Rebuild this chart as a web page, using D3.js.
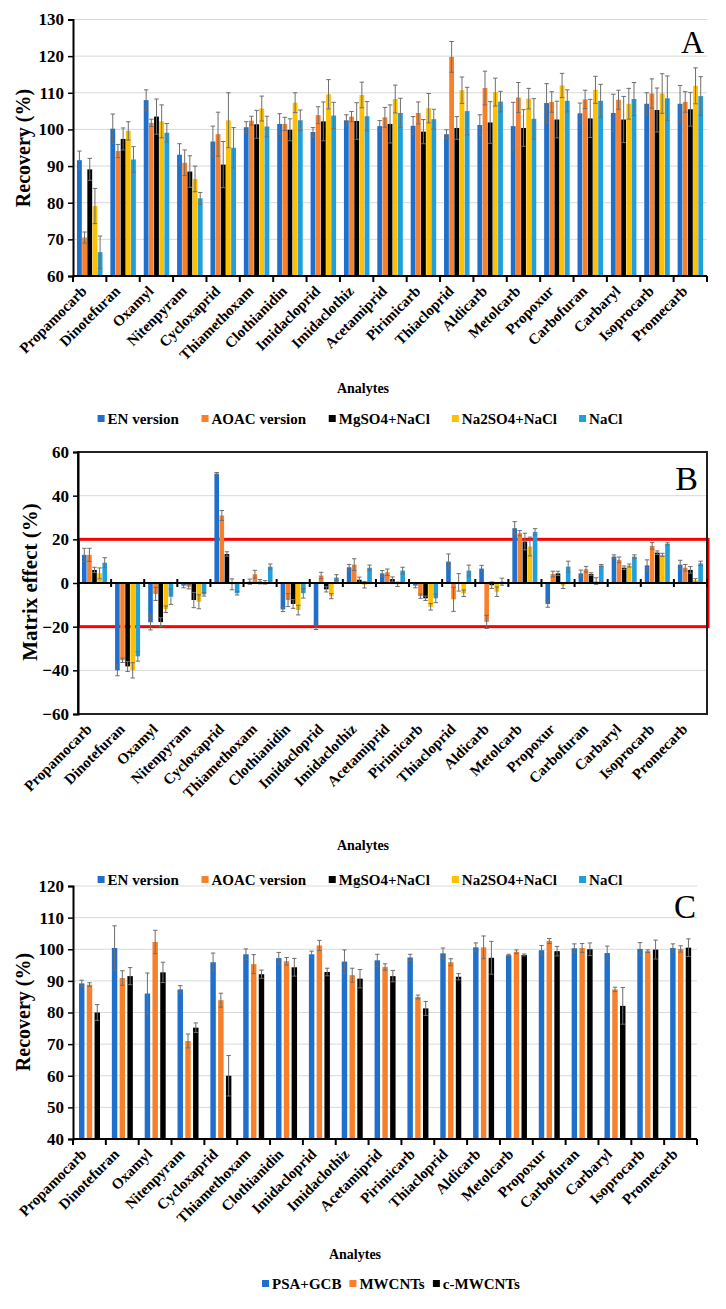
<!DOCTYPE html>
<html><head><meta charset="utf-8">
<script src="https://cdn.jsdelivr.net/npm/d3@7"></script>
<style>
body{margin:0;background:#fff;}
svg{display:block;}
text{font-family:"Liberation Serif","Times New Roman",serif;}
</style></head>
<body><svg id="c" width="726" height="1309"></svg>
<script>
const categories = ["Propamocarb","Dinotefuran","Oxamyl","Nitenpyram","Cycloxaprid","Thiamethoxam","Clothianidin","Imidacloprid","Imidaclothiz","Acetamiprid","Pirimicarb","Thiacloprid","Aldicarb","Metolcarb","Propoxur","Carbofuran","Carbaryl","Isoprocarb","Promecarb"];

const seriesAB = ["EN version","AOAC version","MgSO4+NaCl","Na2SO4+NaCl","NaCl"];
const seriesC = ["PSA+GCB","MWCNTs","c-MWCNTs"];
const colorsAB = ["#1f6fcc","#f8802b","#000000","#ffc000","#1f9fdc"];
const colorsC = ["#1f6fcc","#f8802b","#000000"];

// Panel A: recovery (%)
const recA_EN    = [91.6,100.2,108.0,93.1,96.7,100.6,101.5,99.3,102.5,100.9,101.0,98.7,101.2,100.9,107.2,104.4,104.5,107.0,107.0];
const recA_AOAC  = [70.5,94.1,101.8,90.9,98.7,102.4,101.5,103.9,103.5,103.3,104.5,119.8,111.3,108.7,107.5,108.2,108.1,109.8,107.5];
const recA_Mg    = [89.1,97.4,103.5,88.5,90.4,101.4,99.9,102.2,102.3,101.5,99.4,100.4,101.9,100.4,102.7,103.0,102.7,105.3,105.5];
const recA_Na2   = [79.1,99.6,102.2,86.5,102.5,105.7,107.3,109.6,109.4,108.3,105.8,110.7,110.2,108.4,112.0,110.8,107.0,109.8,111.9];
const recA_NaCl  = [66.5,91.8,99.1,81.2,95.0,100.8,102.5,103.8,103.6,104.5,102.8,105.0,107.6,102.9,107.8,107.8,108.3,108.5,109.1];
const errA_EN    = [2.5,4.0,2.8,3.0,4.2,1.5,2.8,1.2,1.5,1.5,2.5,1.2,2.8,6.5,5.3,2.8,5.1,3.0,5.0];
const errA_AOAC  = [1.5,1.8,1.0,3.5,6.0,1.2,1.8,2.3,1.4,2.7,3.0,4.2,4.6,4.1,2.8,2.5,2.6,4.0,2.8];
const errA_Mg    = [3.0,3.0,4.8,4.3,6.3,3.8,3.0,5.3,5.0,5.2,3.3,3.1,5.7,5.0,5.0,5.2,6.3,6.0,4.6];
const errA_Na2   = [4.8,2.5,4.5,3.5,7.5,3.4,2.7,4.0,3.5,3.8,4.0,3.6,3.8,2.8,3.3,3.7,4.2,5.4,4.9];
const errA_NaCl  = [4.4,3.5,2.5,1.6,5.5,2.8,2.8,3.6,4.0,4.0,2.7,6.5,2.8,5.5,3.0,4.5,4.5,6.1,5.3];

// Panel B: matrix effect (%)
const meB_EN    = [12.9,-40.0,-18.0,-1.2,50.1,0.6,-12.1,-19.8,7.2,4.4,-1.2,9.8,6.6,25.1,-9.6,4.4,12.1,8.1,8.4];
const meB_AOAC  = [12.9,-35.4,-5.0,-1.7,30.9,4.0,-7.8,3.4,8.4,4.9,-6.0,-7.5,-17.8,22.8,4.1,6.3,10.6,17.0,7.0];
const meB_Mg    = [6.0,-38.2,-17.9,-7.8,13.3,0.6,-9.6,-2.9,1.5,1.8,-7.0,0.3,-1.0,19.0,4.4,4.1,7.0,13.9,6.0];
const meB_Na2   = [4.4,-40.0,-12.0,-8.6,-0.6,0.3,-12.4,-6.0,-0.8,-0.6,-10.9,-4.7,-4.0,16.7,-1.2,0.9,8.0,12.9,1.2];
const meB_NaCl  = [9.3,-33.6,-6.3,-5.2,-4.7,7.5,-4.7,2.5,7.0,5.7,-7.0,5.7,0.6,23.4,7.5,8.0,12.1,17.9,9.0];
const errB_EN   = [3.0,2.5,3.5,1.0,0.5,1.2,1.0,1.5,1.3,1.3,1.0,3.5,1.5,3.0,1.5,1.5,0.8,2.5,2.0];
const errB_AOAC = [3.0,1.0,3.0,1.0,2.3,1.8,3.0,1.5,2.7,1.5,1.0,5.5,3.0,1.2,1.3,1.3,1.3,1.5,1.5];
const errB_Mg   = [1.2,2.3,2.0,3.5,1.0,1.0,2.0,1.2,1.2,1.0,1.0,4.0,1.5,3.8,1.0,0.6,0.8,0.8,1.5];
const errB_Na2  = [2.5,3.5,1.5,3.2,2.5,0.8,2.2,1.2,1.5,1.0,1.5,1.5,2.2,4.3,1.3,1.5,0.7,0.7,0.8];
const errB_NaCl = [2.3,2.2,3.5,0.8,0.8,1.2,2.2,1.3,1.2,1.5,2.0,2.5,1.6,1.5,2.5,0.5,0.8,0.5,1.0];

// Panel C: recovery (%)
const recC_PSA  = [89.2,100.4,86.0,87.3,95.9,98.4,97.2,98.4,96.1,96.5,97.4,98.7,100.6,98.1,99.7,100.3,98.8,100.1,100.4];
const recC_MW   = [88.8,90.9,102.3,71.0,83.9,95.3,96.2,101.2,91.8,94.4,84.9,95.9,100.6,99.2,102.6,100.4,87.3,99.4,100.1];
const recC_cMW  = [80.0,91.5,92.7,75.2,60.0,92.1,94.3,92.8,90.7,91.5,81.3,91.3,97.3,98.2,99.4,100.0,82.1,99.9,100.5];
const errC_PSA  = [1.0,7.0,6.5,1.2,2.9,1.7,1.8,1.0,3.7,1.9,1.0,1.7,1.4,0.3,1.5,1.4,2.2,2.0,1.3];
const errC_MW   = [0.6,2.3,3.7,2.2,2.2,3.0,1.2,1.6,2.2,1.0,0.6,1.1,3.6,0.6,0.8,1.4,0.7,0.4,1.0];
const errC_cMW  = [2.5,2.7,3.2,1.5,6.4,1.3,2.8,1.2,2.9,1.8,2.2,1.0,5.2,0.3,1.5,2.0,5.8,3.0,2.8];

const ticksA = [60,70,80,90,100,110,120,130];
const ticksB = [-60,-40,-20,0,20,40,60];
const ticksC = [40,50,60,70,80,90,100,110,120];

const svg = d3.select("#c");
const FONT = '"Liberation Serif","Times New Roman",serif';

function panel(cfg){
  const g = svg.append("g");
  const x = d3.scaleBand().domain(categories).range([cfg.x0, cfg.x1]);
  const y = d3.scaleLinear().domain(cfg.domain).range([cfg.yb, cfg.yt]);
  const bw = x.bandwidth();
  const sub = d3.scaleBand().domain(cfg.series).range([cfg.off, cfg.off + cfg.gw]).paddingInner(cfg.pin);

  // gridlines
  g.append("g").selectAll("line").data(cfg.grid).join("line")
    .attr("x1", cfg.x0).attr("x2", cfg.x1)
    .attr("y1", d => y(d)).attr("y2", d => y(d))
    .attr("stroke", "#d9d9d9").attr("stroke-width", 1);

  // red band
  if (cfg.band){
    g.append("rect").attr("x", cfg.x0 + 0.5).attr("width", cfg.x1 - cfg.x0 + 0.5)
      .attr("y", y(cfg.band[1])).attr("height", y(cfg.band[0]) - y(cfg.band[1]))
      .attr("fill", "none").attr("stroke", "#ff0000").attr("stroke-width", 3);
  }
  // frame
  if (cfg.frame){
    g.append("rect").attr("x", cfg.x0).attr("y", cfg.yt).attr("width", cfg.x1 - cfg.x0).attr("height", cfg.yb - cfg.yt)
      .attr("fill", "none").attr("stroke", "#222").attr("stroke-width", 2);
  }

  // bars
  cfg.values.forEach((vals, si) => {
    const s = cfg.series[si];
    const gg = g.append("g");
    gg.selectAll("rect").data(vals).join("rect")
      .attr("x", (d, i) => x(categories[i]) + sub(s))
      .attr("width", sub.bandwidth())
      .attr("y", d => Math.min(y(d), y(cfg.base)))
      .attr("height", d => Math.abs(y(d) - y(cfg.base)))
      .attr("fill", cfg.colors[si]);
  });
  // error bars
  cfg.values.forEach((vals, si) => {
    const s = cfg.series[si];
    const errs = cfg.errs[si];
    const eg = g.append("g").attr("stroke", "#6e6e6e").attr("stroke-width", 1);
    vals.forEach((v, i) => {
      const cx = x(categories[i]) + sub(s) + sub.bandwidth() / 2;
      const e = errs[i];
      eg.append("line").attr("x1", cx).attr("x2", cx).attr("y1", y(v - e)).attr("y2", y(v + e));
      [v - e, v + e].forEach(t => eg.append("line").attr("x1", cx - 2.2).attr("x2", cx + 2.2).attr("y1", y(t)).attr("y2", y(t)));
    });
  });

  // y axis
  const ya = d3.axisLeft(y).tickValues(cfg.ticks).tickSize(5).tickPadding(4).tickFormat(d3.format("d"));
  const yg = g.append("g").attr("transform", `translate(${cfg.x0},0)`).call(ya);
  yg.select(".domain").attr("stroke", "#000").attr("stroke-width", 2);
  yg.selectAll(".tick line").attr("stroke", "#000").attr("stroke-width", 1.5);
  yg.selectAll(".tick text").attr("font-family", FONT).attr("font-weight", "bold").attr("font-size", 17).attr("fill", "#000");

  // x axis line at base
  const xAxisY = y(cfg.axisAt);
  g.append("line").attr("x1", cfg.x0).attr("x2", cfg.x1).attr("y1", xAxisY).attr("y2", xAxisY)
    .attr("stroke", "#000").attr("stroke-width", 2);
  const bounds = categories.map(c => x(c)).concat([cfg.x1]);
  g.append("g").selectAll("line").data(bounds).join("line")
    .attr("x1", d => d).attr("x2", d => d)
    .attr("y1", xAxisY + (cfg.cross ? -4 : 0)).attr("y2", xAxisY + (cfg.cross ? 4 : 6))
    .attr("stroke", "#000").attr("stroke-width", 2);

  // category labels
  g.append("g").selectAll("text").data(categories).join("text")
    .attr("transform", d => `translate(${x(d) + bw / 2 + cfg.lx},${cfg.ly}) rotate(-45)`)
    .attr("text-anchor", "end")
    .attr("font-family", FONT).attr("font-weight", "bold").attr("font-size", 15).attr("fill", "#000")
    .text(d => d);

  // y title
  g.append("text").attr("transform", `translate(${cfg.ytx},${cfg.yty}) rotate(-90)`)
    .attr("text-anchor", "middle").attr("font-family", FONT).attr("font-weight", "bold")
    .attr("font-size", cfg.ytSize).attr("fill", "#000").text(cfg.ytitle);

  // panel letter
  g.append("text").attr("x", cfg.letterX).attr("y", cfg.letterY).attr("text-anchor", "end")
    .attr("font-family", FONT).attr("font-size", cfg.letterSize).attr("fill", "#000").text(cfg.letter);

  // x title
  g.append("text").attr("x", cfg.xtx).attr("y", cfg.xty).attr("text-anchor", "middle")
    .attr("font-family", FONT).attr("font-weight", "bold").attr("font-size", 14).attr("fill", "#000").text("Analytes");

  // legend
  const lg = g.append("g");
  const items = lg.selectAll("g").data(cfg.series).join("g");
  items.append("rect").attr("width", 7).attr("height", 7).attr("y", -9).attr("fill", (d, i) => cfg.colors[i]);
  items.append("text").attr("x", 10).attr("font-family", FONT).attr("font-weight", "bold")
    .attr("font-size", cfg.legSize).attr("fill", "#000").text(d => d);
  let cur = 0;
  const offs = [];
  items.each(function(){ const w = this.getBBox().width; offs.push(cur); cur += w + cfg.legGap; });
  const total = cur - cfg.legGap;
  items.attr("transform", (d, i) => `translate(${cfg.legCx - total / 2 + offs[i]},${cfg.legY})`);
}

panel({
  x0: 73, x1: 707, yt: 19.5, yb: 276, domain: [60, 130], base: 60, axisAt: 60,
  grid: [70,80,90,100,110,120,130], ticks: ticksA,
  series: seriesAB, colors: colorsAB, off: 4, gw: 25.5, pin: 0.07,
  values: [recA_EN, recA_AOAC, recA_Mg, recA_Na2, recA_NaCl],
  errs: [errA_EN, errA_AOAC, errA_Mg, errA_Na2, errA_NaCl],
  lx: -2, ly: 292, cross: false,
  ytitle: "Recovery (%)", ytx: 30, yty: 148, ytSize: 20,
  letter: "A", letterX: 704, letterY: 53, letterSize: 32,
  xtx: 363, xty: 393, legCx: 360, legY: 424, legGap: 22, legSize: 15
});

panel({
  x0: 78, x1: 707, yt: 452, yb: 714, domain: [-60, 60], base: 0, axisAt: 0,
  grid: [40, -40], ticks: ticksB,
  series: seriesAB, colors: colorsAB, off: 4, gw: 25, pin: 0.1,
  values: [meB_EN, meB_AOAC, meB_Mg, meB_Na2, meB_NaCl],
  errs: [errB_EN, errB_AOAC, errB_Mg, errB_Na2, errB_NaCl],
  lx: -2, ly: 730, cross: true, band: [-20, 20], frame: true,
  ytitle: "Matrix effect (%)", ytx: 37, yty: 582, ytSize: 21,
  letter: "B", letterX: 698, letterY: 490, letterSize: 34,
  xtx: 363, xty: 850, legCx: 360, legY: 885, legGap: 22, legSize: 15
});

panel({
  x0: 73, x1: 697, yt: 886, yb: 1139, domain: [40, 120], base: 40, axisAt: 40,
  grid: [50,60,70,80,90,100,110,120], ticks: ticksC,
  series: seriesC, colors: colorsC, off: 6, gw: 21, pin: 0.3,
  values: [recC_PSA, recC_MW, recC_cMW],
  errs: [errC_PSA, errC_MW, errC_cMW],
  lx: -2, ly: 1155, cross: false,
  ytitle: "Recovery (%)", ytx: 30, yty: 1012, ytSize: 20,
  letter: "C", letterX: 696, letterY: 918, letterSize: 33,
  xtx: 355, xty: 1259, legCx: 391, legY: 1289, legGap: 8, legSize: 15
});
</script></body></html>
